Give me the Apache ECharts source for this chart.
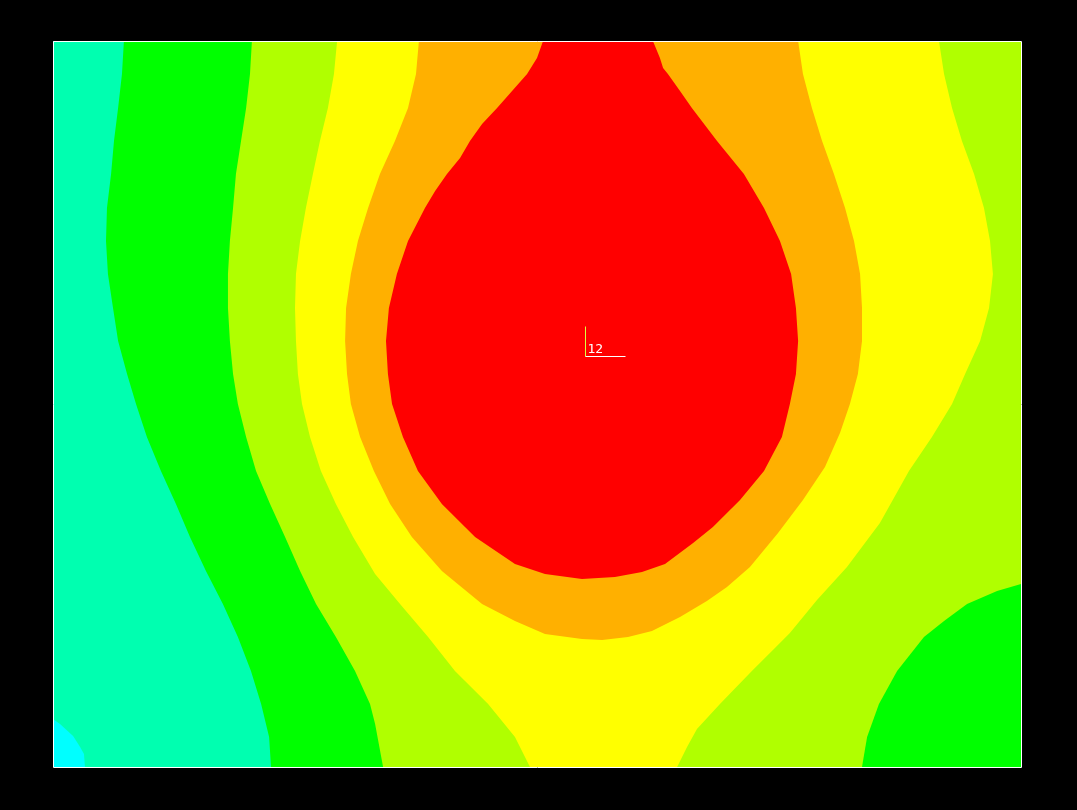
<!DOCTYPE html>
<html>
<head>
<meta charset="utf-8">
<script src="https://cdn.jsdelivr.net/npm/echarts@6/dist/echarts.min.js"></script>
<style>
html,body{margin:0;padding:0;background:#000;}
#chart{width:1077px;height:810px;}
</style>
</head>
<body>
<div id="chart"></div>
<script>
// Data space: x 0..40, y 0..30 (y up)
const xRange = [0, 40];
const yRange = [0, 30];

// Contour boundaries (top to bottom unless noted)
const cyanEdge = [[0,1.98],[0.29,1.78],[0.83,1.28],[1.12,0.83],[1.28,0.54],[1.32,0]];
const aquaGreenEdge = [[2.93,30],[2.85,28.64],[2.69,27.23],[2.52,25.87],[2.40,24.50],[2.23,23.10],[2.19,21.74],[2.27,20.37],[2.48,18.97],[2.69,17.60],[3.06,16.24],[3.43,15.0],[3.88,13.64],[4.46,12.23],[5.08,10.87],[5.66,9.50],[6.32,8.10],[7.02,6.74],[7.64,5.37],[8.18,3.97],[8.60,2.60],[8.93,1.24],[9.01,0]];
const greenYgEdge = [[8.22,30],[8.14,28.64],[7.98,27.23],[7.77,25.87],[7.56,24.50],[7.44,23.10],[7.31,21.74],[7.23,20.37],[7.23,18.97],[7.31,17.60],[7.44,16.24],[7.64,15.0],[7.98,13.64],[8.39,12.23],[8.97,10.87],[9.59,9.50],[10.21,8.10],[10.87,6.74],[11.69,5.37],[12.48,3.97],[13.10,2.60],[13.31,1.78],[13.64,0]];
const ygYellowLeftEdge = [[11.74,30],[11.61,28.64],[11.36,27.23],[11.03,25.87],[10.74,24.50],[10.45,23.10],[10.21,21.74],[10.04,20.37],[10.0,18.97],[10.04,17.60],[10.12,16.24],[10.29,15.0],[10.62,13.64],[11.07,12.23],[11.69,10.87],[12.40,9.50],[13.31,7.98],[14.34,6.74],[15.50,5.37],[16.61,3.97],[17.98,2.60],[19.09,1.24],[19.71,0]];
const yellowYgRightEdge = [[36.61,30],[36.82,28.64],[37.15,27.23],[37.56,25.87],[38.06,24.50],[38.47,23.10],[38.72,21.74],[38.84,20.37],[38.68,18.97],[38.31,17.60],[37.69,16.24],[37.15,15.0],[36.32,13.64],[35.37,12.23],[34.17,10.08],[32.81,8.26],[31.57,6.90],[30.45,5.54],[29.75,4.83],[28.88,3.97],[27.56,2.60],[26.61,1.57],[26.20,0.83],[25.79,0]];
const orangeEdge = [[15.12,30],[15.0,28.64],[14.67,27.23],[14.13,25.87],[13.51,24.50],[13.02,23.10],[12.60,21.74],[12.31,20.37],[12.11,18.97],[12.07,17.60],[12.15,16.24],[12.31,15.0],[12.69,13.64],[13.26,12.23],[13.93,10.87],[14.83,9.50],[16.07,8.10],[17.73,6.74],[19.09,6.03],[20.33,5.50],[21.86,5.29],[22.69,5.25],[23.76,5.37],[24.75,5.62],[25.91,6.20],[27.02,6.86],[27.85,7.44],[28.80,8.26],[29.96,9.67],[30.99,11.03],[31.90,12.40],[32.52,13.80],[32.93,15.0],[33.26,16.24],[33.43,17.60],[33.43,18.97],[33.35,20.37],[33.10,21.74],[32.73,23.10],[32.27,24.50],[31.78,25.87],[31.36,27.23],[30.99,28.64],[30.79,30]];
const redEdge = [[20.25,30],[20.0,29.30],[19.59,28.64],[18.97,27.93],[18.35,27.23],[17.73,26.57],[17.23,25.87],[16.82,25.17],[16.28,24.50],[15.79,23.80],[15.37,23.10],[14.67,21.74],[14.21,20.37],[13.88,18.97],[13.76,17.60],[13.84,16.24],[14.01,15.0],[14.46,13.64],[15.08,12.23],[16.07,10.87],[17.44,9.50],[19.09,8.39],[20.33,7.98],[21.86,7.77],[23.22,7.85],[24.34,8.06],[25.29,8.39],[26.45,9.26],[27.27,9.92],[28.39,11.03],[29.38,12.23],[30.12,13.64],[30.45,15.0],[30.70,16.24],[30.79,17.60],[30.70,18.97],[30.50,20.37],[30.04,21.74],[29.38,23.10],[28.55,24.50],[27.44,25.87],[26.40,27.23],[25.91,27.93],[25.41,28.64],[25.21,28.88],[25.08,29.30],[24.79,30]];
const greenBlobEdge = [[40,7.56],[39.01,7.27],[37.77,6.74],[36.82,6.03],[35.99,5.37],[34.88,3.97],[34.13,2.60],[33.64,1.24],[33.43,0]];

const levelColors = {
  cyan: '#00ffff', aqua: '#00ffb0', green: '#00ff00', yg: '#b0ff00',
  yellow: '#ffff00', orange: '#ffb000', red: '#ff0000'
};

const markerPoint = [22.0, 17.0];
const markerLabel = '12';

// Regions painted in order (later on top)
const regions = [
  { color: levelColors.aqua,   pts: [[0,0],[40,0],[40,30],[0,30]] },
  { color: levelColors.cyan,   pts: cyanEdge.concat([[0,0]]) },
  { color: levelColors.green,  pts: aquaGreenEdge.concat([[40,0],[40,30]]) },
  { color: levelColors.yg,     pts: greenYgEdge.concat([[40,0],[40,30]]) },
  { color: levelColors.green,  pts: greenBlobEdge.concat([[40,0]]) },
  { color: levelColors.yellow, pts: ygYellowLeftEdge.concat(yellowYgRightEdge.slice().reverse()) },
  { color: levelColors.orange, pts: orangeEdge },
  { color: levelColors.red,    pts: redEdge }
];

const chart = echarts.init(document.getElementById('chart'), null, {renderer: 'canvas'});
chart.setOption({
  backgroundColor: '#000',
  animation: false,
  grid: { left: 53, top: 41, width: 968, height: 726, show: false },
  xAxis: { type: 'value', min: xRange[0], max: xRange[1], show: false },
  yAxis: { type: 'value', min: yRange[0], max: yRange[1], show: false },
  series: [
    {
      type: 'custom',
      z: 2,
      clip: true,
      data: regions.map((r, i) => [i]),
      renderItem: function (params, api) {
        const r = regions[params.dataIndex];
        return {
          type: 'polygon',
          shape: { points: r.pts.map(p => api.coord(p)) },
          style: { fill: r.color, stroke: null }
        };
      }
    },
    {
      type: 'custom',
      z: 10,
      data: [markerPoint],
      renderItem: function (params, api) {
        const c = api.coord(markerPoint);
        const x = Math.round(c[0]) + 0.5, y = Math.round(c[1]) + 0.5;
        const tl = api.coord([xRange[0], yRange[1]]);
        const br = api.coord([xRange[1], yRange[0]]);
        return {
          type: 'group',
          children: [
            { type: 'rect', shape: { x: Math.round(tl[0]) + 0.5, y: Math.round(tl[1]) + 0.5,
                width: Math.round(br[0] - tl[0]), height: Math.round(br[1] - tl[1]) },
              style: { fill: null, stroke: '#ffffff', lineWidth: 1 } },
            { type: 'line', shape: { x1: x, y1: y, x2: x, y2: y - 30 },
              style: { stroke: '#d8ff40', lineWidth: 1 } },
            { type: 'line', shape: { x1: x, y1: y, x2: x + 40, y2: y },
              style: { stroke: '#ffffff', lineWidth: 1 } },
            { type: 'text', x: x + 2, y: y,
              style: { text: markerLabel, fill: '#ffffff', font: '13px "DejaVu Sans Mono"',
                textAlign: 'left', textVerticalAlign: 'bottom' } }
          ]
        };
      }
    }
  ]
});
</script>
</body>
</html>
